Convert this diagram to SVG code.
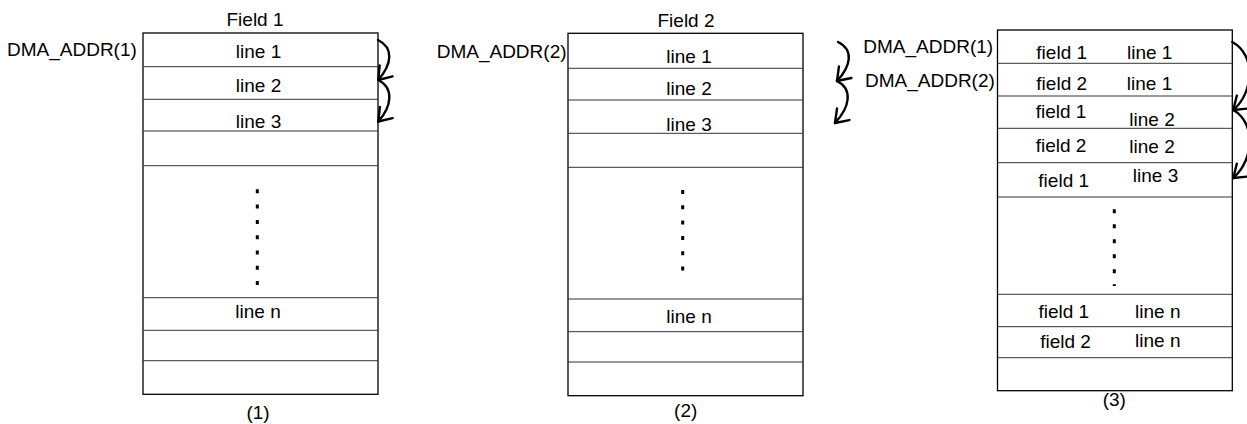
<svg xmlns="http://www.w3.org/2000/svg" width="1247" height="424" viewBox="0 0 1247 424">
<defs>
<style>
text{font-family:"Liberation Sans",Arial,sans-serif;font-size:19px;fill:#000}
.c{text-anchor:middle}
.box{fill:#fff;stroke:#000;stroke-width:1.3}
.row{stroke:#333;stroke-width:1}
.dots{stroke:#000;stroke-width:3;stroke-dasharray:4 11.3}
.arr{fill:none;stroke:#000;stroke-width:2.4;stroke-linecap:round}
</style>
<marker id="ah" markerUnits="userSpaceOnUse" viewBox="-16 -11 18 22" refX="0" refY="0" markerWidth="18" markerHeight="22" orient="auto">
<path d="M-12,-8.5 L0,0 L-12,8.5" fill="none" stroke="#000" stroke-width="2.4" stroke-linecap="round" stroke-linejoin="round"/>
</marker>
</defs>
<rect width="1247" height="424" fill="#fff"/>

<g id="buffer1">
<rect class="box" x="143" y="33" width="235" height="361.3"/>
<line class="row" x1="143" y1="66.7" x2="378" y2="66.7"/>
<line class="row" x1="143" y1="99.3" x2="378" y2="99.3"/>
<line class="row" x1="143" y1="131" x2="378" y2="131"/>
<line class="row" x1="143" y1="165.7" x2="378" y2="165.7"/>
<line class="row" x1="143" y1="297.7" x2="378" y2="297.7"/>
<line class="row" x1="143" y1="330.3" x2="378" y2="330.3"/>
<line class="row" x1="143" y1="360.7" x2="378" y2="360.7"/>
<line class="dots" x1="257.3" y1="189.3" x2="257.3" y2="285"/>
<text class="c" x="255" y="26">Field 1</text>
<text x="7" y="56">DMA_ADDR(1)</text>
<text class="c" x="258.5" y="58">line 1</text>
<text class="c" x="258.5" y="91.7">line 2</text>
<text class="c" x="258.5" y="128">line 3</text>
<text class="c" x="258" y="318">line n</text>
<text class="c" x="258" y="419">(1)</text>
</g>

<g id="buffer2">
<rect class="box" x="568" y="33.3" width="235" height="362.4"/>
<line class="row" x1="568" y1="68.3" x2="803" y2="68.3"/>
<line class="row" x1="568" y1="100" x2="803" y2="100"/>
<line class="row" x1="568" y1="133.3" x2="803" y2="133.3"/>
<line class="row" x1="568" y1="167.3" x2="803" y2="167.3"/>
<line class="row" x1="568" y1="299" x2="803" y2="299"/>
<line class="row" x1="568" y1="331.7" x2="803" y2="331.7"/>
<line class="row" x1="568" y1="362" x2="803" y2="362"/>
<line class="dots" x1="682.7" y1="190" x2="682.7" y2="271"/>
<text class="c" x="686" y="26.7">Field 2</text>
<text x="436.7" y="58">DMA_ADDR(2)</text>
<text class="c" x="689" y="62.7">line 1</text>
<text class="c" x="689" y="95">line 2</text>
<text class="c" x="689" y="131">line 3</text>
<text class="c" x="689" y="322.7">line n</text>
<text class="c" x="685.7" y="417">(2)</text>
</g>

<g id="buffer3">
<rect class="box" x="997.5" y="30" width="234.8" height="360.7"/>
<line class="row" x1="997.5" y1="63.3" x2="1232.3" y2="63.3"/>
<line class="row" x1="997.5" y1="96" x2="1232.3" y2="96"/>
<line class="row" x1="997.5" y1="128.3" x2="1232.3" y2="128.3"/>
<line class="row" x1="997.5" y1="162.7" x2="1232.3" y2="162.7"/>
<line class="row" x1="997.5" y1="197" x2="1232.3" y2="197"/>
<line class="row" x1="997.5" y1="294.3" x2="1232.3" y2="294.3"/>
<line class="row" x1="997.5" y1="326.7" x2="1232.3" y2="326.7"/>
<line class="row" x1="997.5" y1="357.7" x2="1232.3" y2="357.7"/>
<line class="dots" x1="1114.3" y1="209.3" x2="1114.3" y2="286" style="stroke-dasharray:4 11"/>
<text x="863.3" y="53.3">DMA_ADDR(1)</text>
<text x="865" y="87.3">DMA_ADDR(2)</text>
<text class="c" x="1061.7" y="59.3">field 1</text>
<text class="c" x="1149.7" y="59.3">line 1</text>
<text class="c" x="1061.7" y="90">field 2</text>
<text class="c" x="1149.5" y="90">line 1</text>
<text class="c" x="1061" y="118.3">field 1</text>
<text class="c" x="1152" y="126">line 2</text>
<text class="c" x="1061" y="152.3">field 2</text>
<text class="c" x="1152" y="153.3">line 2</text>
<text class="c" x="1063.7" y="186.7">field 1</text>
<text class="c" x="1155.5" y="182.3">line 3</text>
<text class="c" x="1063.8" y="317.7">field 1</text>
<text class="c" x="1157.8" y="318.3">line n</text>
<text class="c" x="1065.5" y="348.3">field 2</text>
<text class="c" x="1157.8" y="346.7">line n</text>
<text class="c" x="1114.3" y="406">(3)</text>
</g>

<g id="connectors">
<path class="arr" marker-end="url(#ah)" d="M378,40 C394,48 392,64 378.3,80"/>
<path class="arr" marker-end="url(#ah)" d="M378.3,80 C394,88 392,106 378.3,121.5"/>
<path class="arr" marker-end="url(#ah)" d="M838,42 C854,50 851,66 837,81"/>
<path class="arr" marker-end="url(#ah)" d="M837,81 C853,89 850,107 835,123"/>
<path class="arr" marker-end="url(#ah)" d="M1232.3,42 C1256,55 1254,92 1233.3,110"/>
<path class="arr" marker-end="url(#ah)" d="M1233.3,110 C1256,123 1254,160 1233.3,178"/>
</g>
</svg>
